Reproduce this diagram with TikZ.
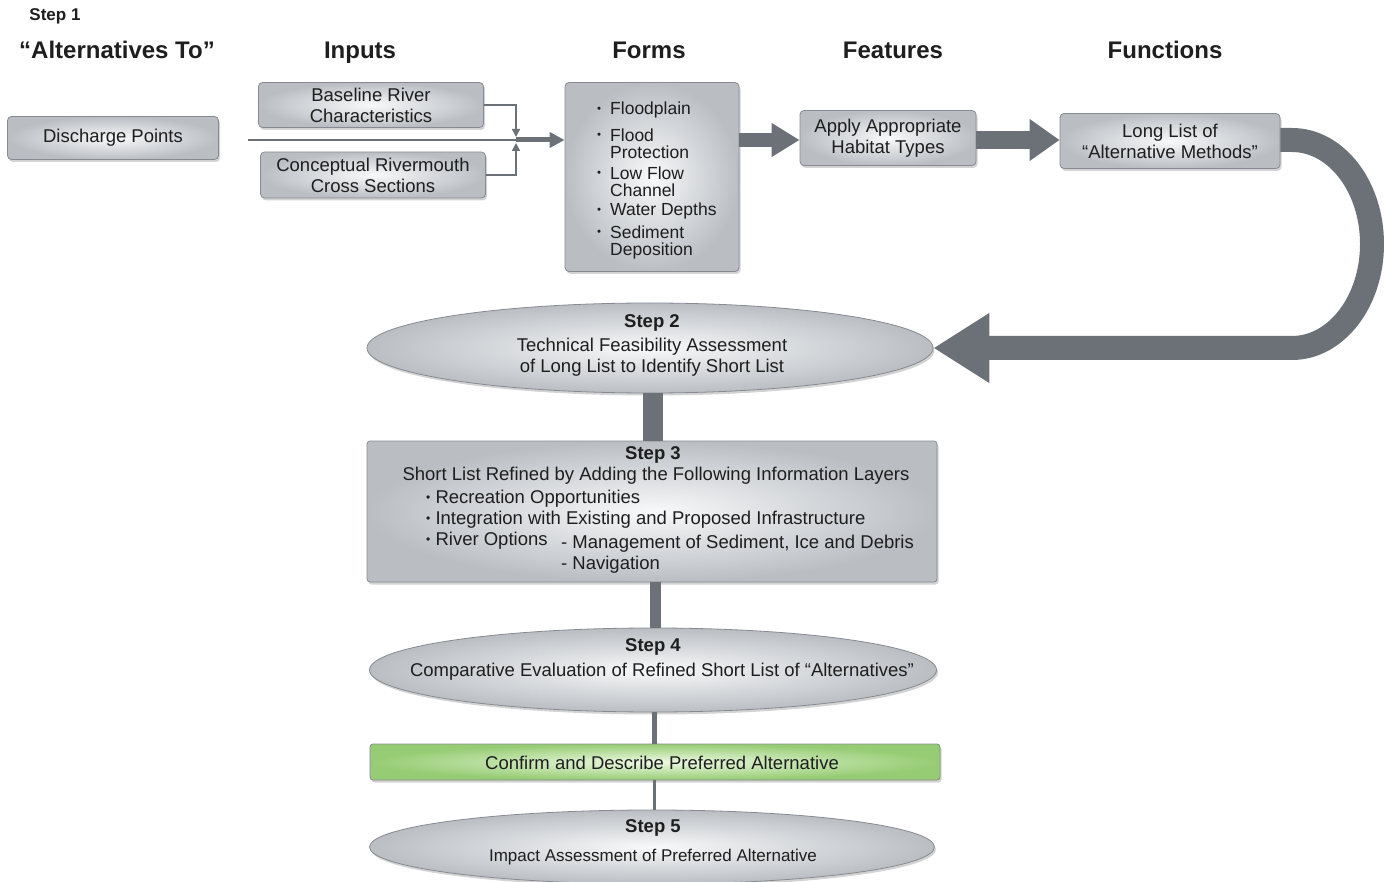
\documentclass[tikz,border=0pt]{standalone}
\usepackage{fontspec}
\setmainfont{Liberation Sans}
\usepackage{graphicx}
\usetikzlibrary{shapes.geometric,arrows.meta,shadows,calc}
\definecolor{boxedge}{RGB}{186,190,195}
\definecolor{boxmid}{RGB}{248,249,250}
\definecolor{boxline}{RGB}{135,139,145}
\definecolor{conn}{RGB}{108,113,119}
\definecolor{txt}{RGB}{30,30,30}
\definecolor{gredge}{RGB}{150,204,115}
\definecolor{grmid}{RGB}{238,249,228}
\newcommand{\bul}{\raisebox{2pt}{\scalebox{0.65}{\textbullet}}}
\begin{document}
\begin{tikzpicture}[x=1pt,y=-1pt,
  shad/.style={drop shadow={shadow xshift=1.5pt,shadow yshift=-2.5pt,opacity=0.35}},
  gbox/.style={draw=boxline, line width=0.8pt, rounded corners=4pt, inner color=boxmid, outer color=boxedge, shad, text=txt, align=center, inner sep=0pt, font=\fontsize{18.5}{21}\selectfont},
  gell/.style={ellipse, draw=boxline, line width=0.8pt, inner color=boxmid, outer color=boxedge, shad, inner sep=0pt},
  grbox/.style={draw=boxline, line width=0.8pt, rounded corners=3pt, inner color=grmid, outer color=gredge, shad, inner sep=0pt},
  head/.style={font=\fontsize{24}{27}\selectfont\bfseries, text=txt, inner sep=0pt, anchor=base},
  body/.style={font=\fontsize{18.5}{21}\selectfont, text=txt, inner sep=0pt},
  bodyb/.style={font=\fontsize{18.5}{21}\selectfont\bfseries, text=txt, inner sep=0pt},
  forms/.style={font=\fontsize{17.5}{17.5}\selectfont, text=txt, inner sep=0pt, anchor=base west},
  forms2/.style={font=\fontsize{17.5}{17.5}\selectfont, text=txt, inner sep=0pt, anchor=north west, align=left},
  thin/.style={draw=conn, line width=1.6pt},
  small/.style={-{Triangle[length=8pt,width=8pt]}},
  bar/.style={draw=conn},
]
\useasboundingbox (0,0) rectangle (1384,882);

% headings
\node[font=\fontsize{17}{19}\selectfont\bfseries, text=txt, inner sep=0pt] (s1) at (55,16) {Step 1};
\node[head] (h0) at (117,58.5) {“Alternatives To”};
\node[head] (h1) at (360,58.5) {Inputs};
\node[head] (h2) at (649,58.5) {Forms};
\node[head] (h3) at (893,58.5) {Features};
\node[head] (h4) at (1165,58.5) {Functions};

\coordinate (a0) at (248,140);
\coordinate (j) at (516,140);
\coordinate (uA) at (1292,140);

% step 1 boxes
\node[gbox, minimum width=211pt, minimum height=43pt] (dp) at (113,138) {Discharge Points};
\node[gbox, minimum width=225pt, minimum height=45pt] (br) at (371,105) {Baseline River\\Characteristics};
\node[gbox, minimum width=225pt, minimum height=46pt] (cr) at (373,175) {Conceptual Rivermouth\\Cross Sections};
\node[gbox, minimum width=174pt, minimum height=189pt] (fm) at (652,177) {};
\node[gbox, minimum width=176pt, minimum height=55pt] (ap) at (888,138) {Apply Appropriate\\Habitat Types};
\node[gbox, minimum width=220pt, minimum height=55pt] (ll) at (1170,141) {Long List of\\“Alternative Methods”};

% forms text
\node[forms] (b1) at (597,115) {\bul};
\node[forms] (f1) at (610,115) {Floodplain};
\node[forms] (b2) at (597,141) {\bul};
\node[forms2] (f2) at (610,128.3) {Flood\\Protection};
\node[forms] (b3) at (597,179) {\bul};
\node[forms2] (f4) at (610,166.3) {Low Flow\\Channel};
\node[forms] (b4) at (597,216) {\bul};
\node[forms] (f6) at (610,216) {Water Depths};
\node[forms] (b5) at (597,238) {\bul};
\node[forms2] (f7) at (610,225.3) {Sediment\\Deposition};

% input arrows
\draw[thin] (a0) -- (j);
\draw[draw=conn, line width=5pt, -{Triangle[length=15pt,width=15pt]}] (j) -- (j -| fm.west);
\draw[thin, small] (br.east) -| ($(j)+(0,-3)$);
\draw[thin, small] (cr.east) -| ($(j)+(0,3)$);

% thick arrows
\draw[draw=conn, line width=14pt, -{Triangle[length=28pt,width=32pt]}] (fm.east |- 0,140) -- (ap.west |- 0,140);
\draw[draw=conn, line width=18pt, -{Triangle[length=30pt,width=40pt]}] (ap.east |- 0,140) -- (ll.west |- 0,140);

% step 2 ellipse
\node[gell, minimum width=566pt, minimum height=90pt] (e2) at (650,348) {};
\node[bodyb] (t2a) at (652,323) {Step 2};
\node[body] (t2b) at (652,347) {Technical Feasibility Assessment};
\node[body] (t2c) at (652,368) {of Long List to Identify Short List};

% U arrow
\draw[draw=conn, line width=24pt, -{Triangle[length=56pt,width=66pt]}]
  (ll.east |- uA) -- (uA) arc[start angle=-90, end angle=90, x radius=80, y radius=104] -- (e2.east);

% step 3
\node[gbox, minimum width=570pt, minimum height=141pt, rounded corners=3pt] (s3) at (652,511.5) {};
\node[bodyb] (t3a) at (653,455) {Step 3};
\node[body] (t3b) at (656,476) {Short List Refined by Adding the Following Information Layers};
\node[body, anchor=base west] (t3c) at (426,503) {\bul\ Recreation Opportunities};
\node[body, anchor=base west] (t3d) at (426,524) {\bul\ Integration with Existing and Proposed Infrastructure};
\node[body, anchor=base west] (t3e) at (426,545) {\bul\ River Options};
\node[body, anchor=base west] (t3f) at (561,548) {- Management of Sediment, Ice and Debris};
\node[body, anchor=base west] (t3g) at (561,569) {- Navigation};

% step 4
\node[gell, minimum width=567pt, minimum height=84pt] (e4) at (653,670) {};
\node[bodyb] (t4a) at (653,647) {Step 4};
\node[body] (t4b) at (662,672) {Comparative Evaluation of Refined Short List of “Alternatives”};

% green
\node[grbox, minimum width=570pt, minimum height=36pt] (gr) at (655,762) {};
\node[body] (tg) at (662,763) {Confirm and Describe Preferred Alternative};

% step 5
\node[gell, minimum width=565pt, minimum height=74pt] (e5) at (652,847) {};
\node[bodyb] (t5a) at (653,828) {Step 5};
\node[body, font=\fontsize{17}{19}\selectfont] (t5b) at (653,857) {Impact Assessment of Preferred Alternative};

% vertical bars
\draw[bar, line width=20pt] (e2.south -| 653,0) -- (s3.north -| 653,0);
\draw[bar, line width=11pt] (s3.south -| 655,0) -- (e4.north -| 655,0);
\draw[bar, line width=5pt] (e4.south -| 654,0) -- (gr.north -| 654,0);
\draw[bar, line width=3pt] (gr.south -| 654,0) -- (e5.north -| 654,0);
\end{tikzpicture}
\end{document}
